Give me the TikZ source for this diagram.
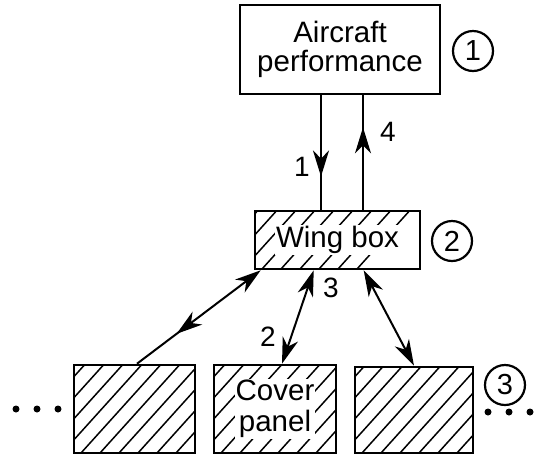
\documentclass[tikz,border=0pt]{standalone}
\usepackage{fontspec}
\setmainfont{Liberation Sans}
\usepackage{tikz}
\usetikzlibrary{arrows.meta,calc,decorations.markings}

\begin{document}
\begin{tikzpicture}[x=1pt,y=-1pt,
plainnode/.style={rectangle, draw=black, line width=2.6pt, minimum width=200pt, minimum height=89pt,
align=center, font=\fontsize{29.5}{29}\selectfont},
hatchnode/.style={rectangle, draw=black, line width=2.6pt, minimum width=121pt, minimum height=88pt,
path picture={\foreach \i in {-240,-221,...,120}
  \draw[line width=1.5pt] ($(path picture bounding box.south west)+(\i,0)$) -- ++(120,-133);}},
textnode/.style={fill=white, inner sep=1pt, align=center, font=\fontsize{29.5}{31}\selectfont},
numnode/.style={circle, draw=black, line width=2.2pt, minimum size=40pt, inner sep=0pt,
font=\fontsize{29}{29}\selectfont},
labnode/.style={inner sep=0pt, font=\fontsize{28}{28}\selectfont},
dbl/.style={{Stealth[length=26pt,width=16pt,inset=8pt]}-{Stealth[length=26pt,width=16pt,inset=8pt]}},
midtip/.style={postaction={decorate},decoration={markings,
mark=at position #1 with {\arrow{Stealth[length=26pt,width=16pt,inset=8pt]}}}}
]
\useasboundingbox (0,0) rectangle (536,459);
%Nodes
\node[plainnode]  (air)   at (340,49.5) {Aircraft\\performance};
\node[hatchnode, minimum width=165pt, minimum height=58pt] (wing) at (337.5,240) {};
\node[textnode] at (wing) {Wing box};
\node[hatchnode]  (left)  at (134.5,409) {};
\node[hatchnode, minimum width=122pt] (cover) at (275,409) {};
\node[textnode] at (cover) {Cover\\panel};
\node[hatchnode, minimum width=118pt, minimum height=86pt] (right) at (414,410) {};
\node[numnode]    (n1)    at (473,51)  {1};
\node[numnode]    (n2)    at (452,241) {2};
\node[numnode]    (n3)    at (505,385) {3};

%Lines
\coordinate (down) at ($(air.south)+(-19,0)$);
\coordinate (up)   at ($(air.south)+(23,0)$);
\draw[line width=2pt, midtip=0.71] (down) -- (down |- wing.north);
\draw[line width=2pt, midtip=0.72] (up |- wing.north) -- (up);
\draw[line width=2pt, midtip=0.68, {Stealth[length=26pt,width=16pt,inset=8pt]}-]
  ($(wing.south west)+(7,0)$) -- ($(left.north)+(2.5,0)$);
\draw[line width=2pt, dbl] ($(wing.south west)+(60,0)$) -- ($(cover.north)+(7,0)$);
\draw[line width=2pt, dbl] ($(wing.south west)+(110,0)$) -- (right.north);

%Labels
\node[labnode] (l1) at (302,167) {1};
\node[labnode] (l4) at (388,132) {4};
\node[labnode] (l3) at (331,288) {3};
\node[labnode] (l2) at (268,337) {2};

%Dots
\foreach \x in {16,37,58} \fill (\x,409) circle (3.5);
\foreach \x in {488,509,530} \fill (\x,412) circle (3.5);
\end{tikzpicture}
\end{document}
